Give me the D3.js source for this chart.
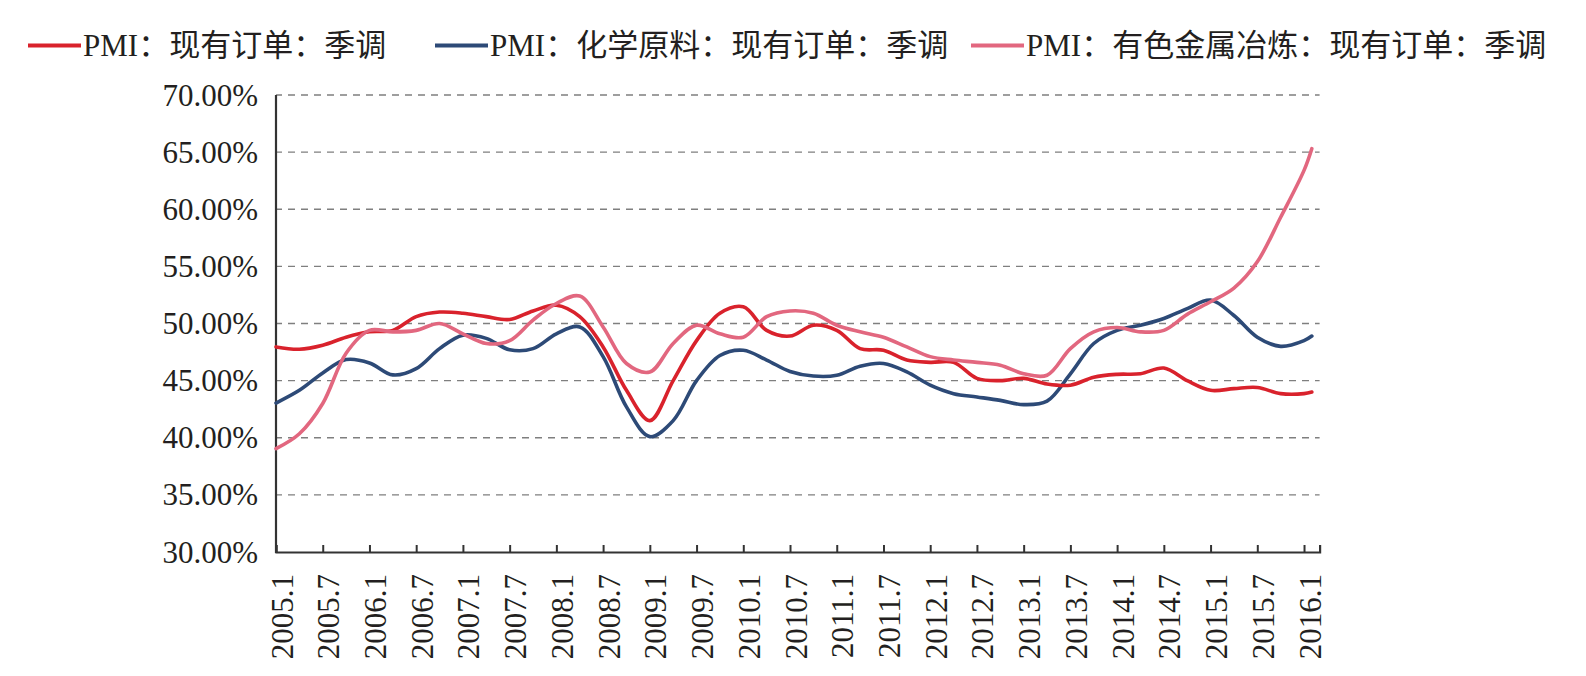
<!DOCTYPE html>
<html>
<head>
<meta charset="utf-8">
<script src="https://cdn.jsdelivr.net/npm/d3@7"></script>
<style>
  body { margin: 0; background: #fff; }
  svg { display: block; }
  text { font-family: "Liberation Serif", "Noto Sans CJK SC", serif; fill: #231f20; }
</style>
</head>
<body>
<svg id="chart" width="1586" height="676"></svg>
<script>
// sampled every 3 months, last point 2016.2
const months = [
  "2005.1","2005.4","2005.7","2005.10","2006.1","2006.4","2006.7","2006.10",
  "2007.1","2007.4","2007.7","2007.10","2008.1","2008.4","2008.7","2008.10",
  "2009.1","2009.4","2009.7","2009.10","2010.1","2010.4","2010.7","2010.10",
  "2011.1","2011.4","2011.7","2011.10","2012.1","2012.4","2012.7","2012.10",
  "2013.1","2013.4","2013.7","2013.10","2014.1","2014.4","2014.7","2014.10",
  "2015.1","2015.4","2015.7","2015.10","2016.1","2016.2"
];
const pmiBacklog = [
  47.95,47.75,48.1,48.8,49.27,49.4,50.6,51.0,
  50.9,50.6,50.35,51.1,51.6,50.6,47.95,44.15,
  41.5,45.0,48.5,50.9,51.46,49.4,48.9,49.85,
  49.4,47.8,47.66,46.8,46.6,46.6,45.2,45.0,
  45.2,44.7,44.6,45.3,45.55,45.6,46.1,45.0,
  44.15,44.3,44.4,43.86,43.86,44.0
];
const chemBacklog = [
  43.04,44.15,45.67,46.84,46.55,45.5,46.05,47.8,
  48.98,48.7,47.7,47.8,49.1,49.7,47.1,42.7,
  40.1,41.5,45.0,47.2,47.66,46.8,45.8,45.4,
  45.47,46.26,46.5,45.76,44.6,43.86,43.57,43.27,
  42.9,43.2,45.6,48.25,49.4,49.85,50.44,51.3,
  52.05,50.7,48.8,48.0,48.5,48.9
];
const metalBacklog = [
  39.04,40.35,43.0,47.4,49.4,49.27,49.4,50.0,
  49.1,48.25,48.5,50.3,51.75,52.4,49.7,46.5,
  45.76,48.25,49.85,49.1,48.8,50.6,51.1,50.9,
  49.85,49.27,48.8,47.95,47.1,46.8,46.6,46.35,
  45.6,45.47,47.8,49.27,49.65,49.27,49.4,50.8,
  51.9,53.1,55.4,59.3,63.4,65.3
];
const tickLabels = [
  "2005.1","2005.7","2006.1","2006.7","2007.1","2007.7","2008.1","2008.7",
  "2009.1","2009.7","2010.1","2010.7","2011.1","2011.7","2012.1","2012.7",
  "2013.1","2013.7","2014.1","2014.7","2015.1","2015.7","2016.1"
];
const yTicks = [30, 35, 40, 45, 50, 55, 60, 65, 70];
const seriesNames = [
  "PMI：现有订单：季调",
  "PMI：化学原料：现有订单：季调",
  "PMI：有色金属冶炼：现有订单：季调"
];
const seriesColors = ["#d9222c", "#2d4a77", "#e2677f"];

const monthIndex = (s) => {
  const [y, m] = s.split(".").map(Number);
  return (y - 2005) * 12 + (m - 1);
};

const svg = d3.select("#chart");
const x = d3.scaleLinear().domain([0, 134]).range([276, 1319.6]);
const y = d3.scaleLinear().domain([30, 70]).range([552, 95]);

// gridlines
svg.append("g")
  .selectAll("line")
  .data(yTicks.filter((d) => d > 30))
  .join("line")
  .attr("x1", x(0))
  .attr("x2", x(134))
  .attr("y1", (d) => y(d))
  .attr("y2", (d) => y(d))
  .attr("stroke", "#7f7f7f")
  .attr("stroke-width", 1.4)
  .attr("stroke-dasharray", "7,6")
  .attr("stroke-dashoffset", -12);

// y labels
svg.append("g")
  .selectAll("text")
  .data(yTicks)
  .join("text")
  .attr("x", 258)
  .attr("y", (d) => y(d))
  .attr("text-anchor", "end")
  .attr("dominant-baseline", "central")
  .attr("font-size", 31)
  .text((d) => d.toFixed(2) + "%");

// x axis with inward ticks
const xAxis = d3.axisBottom(x)
  .tickValues(tickLabels.map(monthIndex))
  .tickSize(-7)
  .tickFormat("");
const gx = svg.append("g").attr("transform", `translate(0,${y(30)})`).call(xAxis);
gx.select(".domain").attr("stroke", "#333").attr("stroke-width", 2.2);
gx.selectAll(".tick line").attr("stroke", "#333").attr("stroke-width", 2);

svg.append("g")
  .selectAll("text")
  .data(tickLabels)
  .join("text")
  .attr("transform", (d) => `translate(${x(monthIndex(d)) + 6},574) rotate(-90)`)
  .attr("text-anchor", "end")
  .attr("dominant-baseline", "central")
  .attr("font-size", 31)
  .text((d) => d);

// y axis line
svg.append("line")
  .attr("x1", x(0)).attr("x2", x(0))
  .attr("y1", y(70)).attr("y2", y(30) + 1)
  .attr("stroke", "#333")
  .attr("stroke-width", 2.2);

const allSeries = [pmiBacklog, chemBacklog, metalBacklog];
const line = d3.line()
  .x((d, i) => x(monthIndex(months[i])))
  .y((d) => y(d))
  .curve(d3.curveCatmullRom.alpha(0.5));

// draw blue first, then red, pink on top
[1, 0, 2].forEach((k) => {
  svg.append("path")
    .datum(allSeries[k])
    .attr("fill", "none")
    .attr("stroke", seriesColors[k])
    .attr("stroke-width", 3.6)
    .attr("stroke-linejoin", "round")
    .attr("stroke-linecap", "round")
    .attr("d", line);
});

// legend
const legendX = [28, 435, 971];
const legend = svg.append("g")
  .selectAll("g")
  .data(seriesNames)
  .join("g")
  .attr("transform", (d, i) => `translate(${legendX[i]},45.5)`);
legend.append("line")
  .attr("x1", 0).attr("x2", 53)
  .attr("stroke", (d, i) => seriesColors[i])
  .attr("stroke-width", 4);
legend.append("text")
  .attr("x", 55)
  .attr("dominant-baseline", "central")
  .attr("font-size", 31)
  .text((d) => d);
</script>
</body>
</html>
